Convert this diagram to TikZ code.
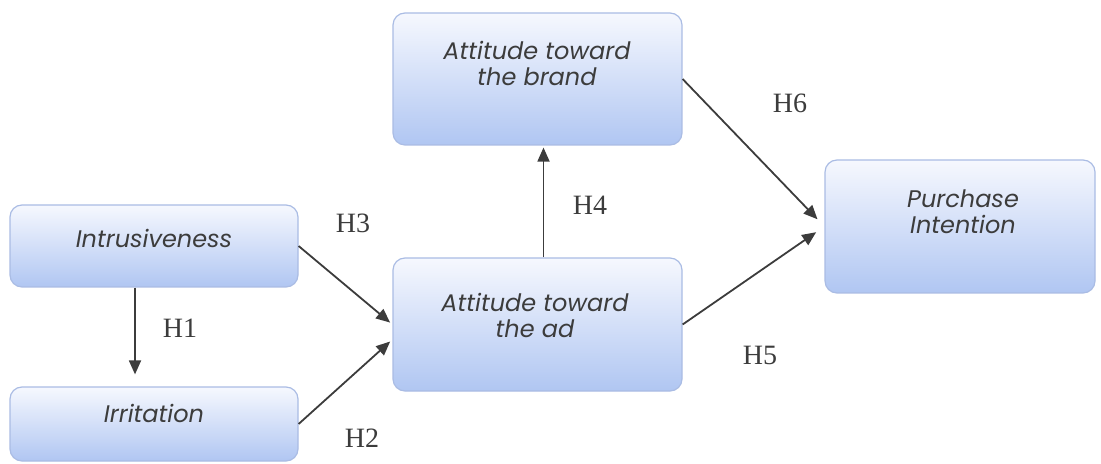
\documentclass[tikz,border=0pt]{standalone}
\usepackage{fontspec}
\setmainfont{Liberation Serif}
\newfontfamily\gothic{Poppins}
\usetikzlibrary{arrows.meta}
\definecolor{boxtop}{RGB}{246,248,254}
\definecolor{boxbot}{RGB}{176,198,242}
\definecolor{boxline}{RGB}{170,188,228}
\definecolor{ink}{RGB}{60,60,60}
\tikzset{
  box/.style={draw=boxline, line width=0.6pt, rounded corners=6pt,
    top color=boxtop, bottom color=boxbot},
  txt/.style={font=\gothic\itshape\fontsize{12}{13}\selectfont,
    text=ink, align=center, inner sep=0pt},
  hyp/.style={font=\fontsize{14}{15}\selectfont, text=ink, inner sep=0pt},
  link/.style={draw=ink, line width=0.9pt, -{Triangle[length=7pt,width=6pt]}}
}
\begin{document}
\begin{tikzpicture}[x=0.5pt,y=-0.5pt]
\useasboundingbox (0,0) rectangle (1101,464);
% boxes
\node[box,minimum width=144pt,minimum height=41pt] (intr) at (154,246) {};
\node[box,minimum width=144pt,minimum height=37pt] (irr) at (154,424) {};
\node[box,minimum width=144.5pt,minimum height=66.5pt] (ad) at (537.5,324.5) {};
\node[box,minimum width=144.5pt,minimum height=66pt] (brand) at (537.5,79) {};
\node[box,minimum width=135pt,minimum height=66.5pt] (pi) at (960,226.5) {};
% texts
\node[txt] (intr-t) at (154,238) {Intrusiveness};
\node[txt] (irr-t) at (154,413) {Irritation};
\node[txt] (ad-t) at (535,315) {Attitude toward\\the ad};
\node[txt] (brand-t) at (537,63) {Attitude toward\\the brand};
\node[txt] (pi-t) at (963,212) {Purchase\\Intention};
% hypotheses
\draw[link,shorten >=6pt] ([xshift=-9.5pt]intr.south) -- ([xshift=-9.5pt]irr.north);
\draw[link,shorten >=1.5pt] (intr.east) -- (ad.west);
\draw[link,shorten >=1.5pt] (irr.east) -- ([yshift=-7.5pt]ad.west);
\draw[link,shorten >=1pt] ([xshift=3pt]ad.north) -- ([xshift=3pt]brand.south);
\draw[link,shorten >=5pt] (brand.east) -- (pi.west);
\draw[link,shorten >=5pt] (ad.east) -- (pi.west);
\node[hyp] (h1) at (180,328) {H1};
\node[hyp] (h2) at (362,438) {H2};
\node[hyp] (h3) at (353,223) {H3};
\node[hyp] (h4) at (590,205) {H4};
\node[hyp] (h5) at (760,355) {H5};
\node[hyp] (h6) at (790,103) {H6};
\end{tikzpicture}
\end{document}
